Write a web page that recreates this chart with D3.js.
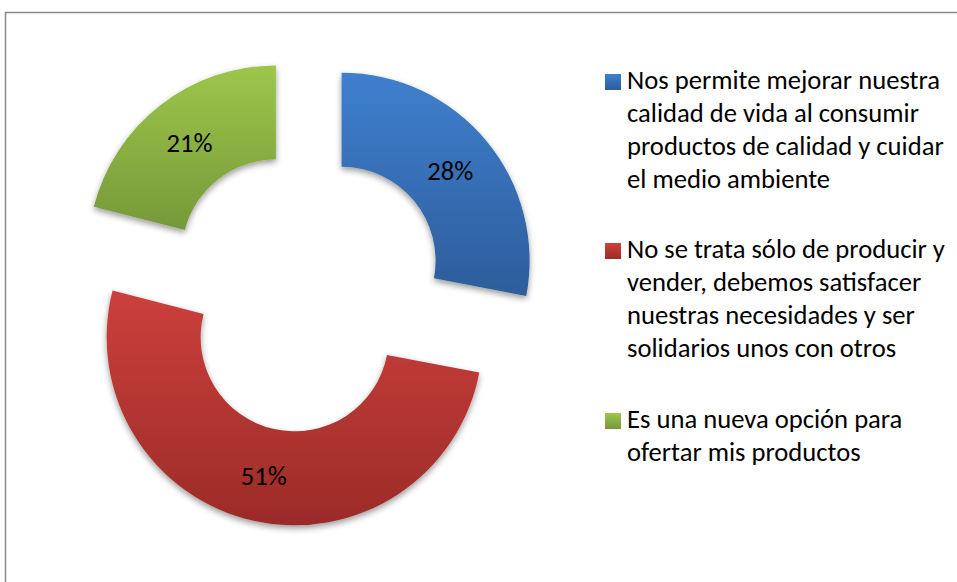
<!DOCTYPE html>
<html>
<head>
<meta charset="utf-8">
<script src="https://cdn.jsdelivr.net/npm/d3@7"></script>
<style>
  body { margin: 0; background: #fff; }
  svg { display: block; font-family: Carlito, "Open Sans", sans-serif; }
</style>
</head>
<body>
<svg id="chart" width="957" height="582"></svg>
<script>
// data
var categories = ["blue", "red", "green"];
var values = [28, 51, 21];
var labels = ["28%", "51%", "21%"];
var legendLines = [
	["Nos permite mejorar nuestra", "calidad de vida al consumir", "productos de calidad y cuidar", "el medio ambiente"],
	["No se trata sólo de producir y", "vender, debemos satisfacer", "nuestras necesidades y ser", "solidarios unos con otros"],
	["Es una nueva opción para", "ofertar mis productos"]
];

var topColors = ["#3f7fce", "#cc403c", "#9ec64a"];
var bottomColors = ["#2d5d9b", "#9b2b28", "#76983a"];

var svg = d3.select("#chart");
var cx = 305, cy = 291, outerR = 188, innerR = 94, explode = 47.5;

// pick a font size so the first legend line is as wide as in the picture
var probe = svg.append("text").attr("font-size", 20).text(legendLines[0][0]);
var fontSize = 20 * 313 / probe.node().getComputedTextLength();
probe.remove();

var defs = svg.append("defs");
var shadow = defs.append("filter").attr("id", "shadow")
	.attr("x", "-20%").attr("y", "-20%").attr("width", "140%").attr("height", "140%");
shadow.append("feDropShadow")
	.attr("dx", 0).attr("dy", 3).attr("stdDeviation", 3)
	.attr("flood-color", "#000").attr("flood-opacity", 0.4);

categories.forEach(function (c, i) {
	var g = defs.append("linearGradient").attr("id", "grad-" + c)
		.attr("x1", 0).attr("y1", 0).attr("x2", 0).attr("y2", 1);
	g.append("stop").attr("offset", "0%").attr("stop-color", topColors[i]);
	g.append("stop").attr("offset", "100%").attr("stop-color", bottomColors[i]);
});

// frame
svg.append("rect")
	.attr("x", 5.5).attr("y", 12.5)
	.attr("width", 1000).attr("height", 700)
	.attr("fill", "none").attr("stroke", "#8a8a8a").attr("stroke-width", 1.5);

var pie = d3.pie().sort(null).value(function (d) { return d; });
var arc = d3.arc().innerRadius(innerR).outerRadius(outerR);
var arcs = pie(values);

var slices = svg.append("g")
	.attr("transform", "translate(" + cx + "," + cy + ")")
	.selectAll("g")
	.data(arcs)
	.enter()
	.append("g")
	.attr("transform", function (d) {
		var a = (d.startAngle + d.endAngle) / 2;
		return "translate(" + (explode * Math.sin(a)) + "," + (-explode * Math.cos(a)) + ")";
	});

slices.append("path")
	.attr("d", arc)
	.attr("fill", function (d, i) { return "url(#grad-" + categories[i] + ")"; })
	.attr("filter", "url(#shadow)");

slices.append("text")
	.attr("transform", function (d) { return "translate(" + arc.centroid(d) + ")"; })
	.attr("text-anchor", "middle")
	.attr("dy", "0.36em")
	.attr("font-size", fontSize)
	.attr("fill", "#000")
	.text(function (d, i) { return labels[i]; });

// legend
var legend = svg.append("g");
var baselines = [89, 258, 428];
var lineH = 33;

legendLines.forEach(function (lines, i) {
	var item = legend.append("g");
	item.append("rect")
		.attr("x", 605).attr("y", baselines[i] - 15)
		.attr("width", 16).attr("height", 16)
		.attr("fill", "url(#grad-" + categories[i] + ")");
	item.selectAll("text")
		.data(lines)
		.enter()
		.append("text")
		.attr("x", 627)
		.attr("y", function (d, j) { return baselines[i] + j * lineH; })
		.attr("font-size", fontSize)
		.attr("fill", "#000")
		.text(function (d) { return d; });
});
</script>
</body>
</html>
